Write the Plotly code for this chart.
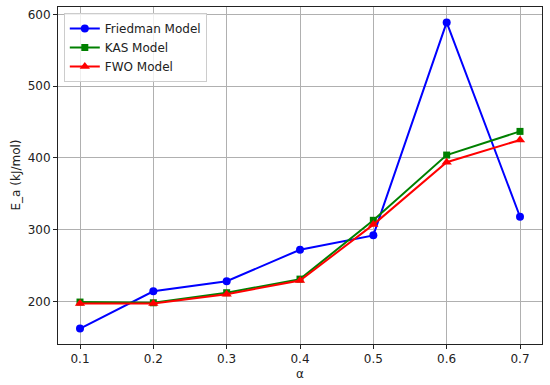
import plotly.graph_objects as go

alpha = [0.1, 0.2, 0.3, 0.4, 0.5, 0.6, 0.7]
friedman = [162, 214, 228, 272, 292, 589, 318]
kas = [199, 198, 212, 231, 313, 404, 437]
fwo = [197, 197, 210, 229, 307, 394, 425]

x_ticks = [0.1, 0.2, 0.3, 0.4, 0.5, 0.6, 0.7]
y_ticks = [200, 300, 400, 500, 600]

fig = go.Figure()
series = [
    ("Friedman Model", friedman, "blue", "circle", 8),
    ("KAS Model", kas, "green", "square", 7),
    ("FWO Model", fwo, "red", "triangle-up", 9),
]
for name, vals, col, sym, sz in series:
    fig.add_trace(go.Scatter(
        x=alpha, y=vals, name=name, mode="lines+markers",
        line=dict(color=col, width=2),
        marker=dict(color=col, symbol=sym, size=sz, line=dict(width=0)),
    ))

axis_common = dict(
    showgrid=True, gridcolor="#b0b0b0", gridwidth=1,
    showline=True, linecolor="#222222", linewidth=1, mirror=True,
    ticks="outside", ticklen=4, tickcolor="#222222", tickwidth=1,
    zeroline=False, automargin=False,
    tickfont=dict(family="DejaVu Sans", size=12, color="#222222"),
)

fig.update_layout(
    width=550, height=385,
    margin=dict(l=58, r=8, t=7, b=41),
    paper_bgcolor="white", plot_bgcolor="white",
    font=dict(family="DejaVu Sans", size=12, color="#222222"),
    xaxis=dict(range=[0.07, 0.73], tickvals=x_ticks,
               ticktext=[f"{v:.1f}" for v in x_ticks], **axis_common),
    yaxis=dict(range=[140.5, 610.5], tickvals=y_ticks, **axis_common),
    legend=dict(x=0.012, y=0.982, xanchor="left", yanchor="top",
                bgcolor="rgba(255,255,255,0.8)", bordercolor="#cccccc",
                borderwidth=1, font=dict(size=12), tracegroupgap=0,
                itemwidth=30),
    showlegend=True,
    annotations=[
        dict(text="α", xref="paper", yref="paper", x=0.5, y=0,
             xanchor="center", yanchor="middle", yshift=-30,
             showarrow=False, font=dict(size=12, color="#222222")),
        dict(text="E_a (kJ/mol)", xref="paper", yref="paper", x=0, y=0.5,
             xanchor="center", yanchor="middle", xshift=-43, textangle=-90,
             showarrow=False, font=dict(size=12, color="#222222")),
    ],
)

fig.write_html(
    "out.html",
    config={"displayModeBar": False},
    post_script="document.body.style.margin='0';document.body.style.overflow='hidden';",
)
